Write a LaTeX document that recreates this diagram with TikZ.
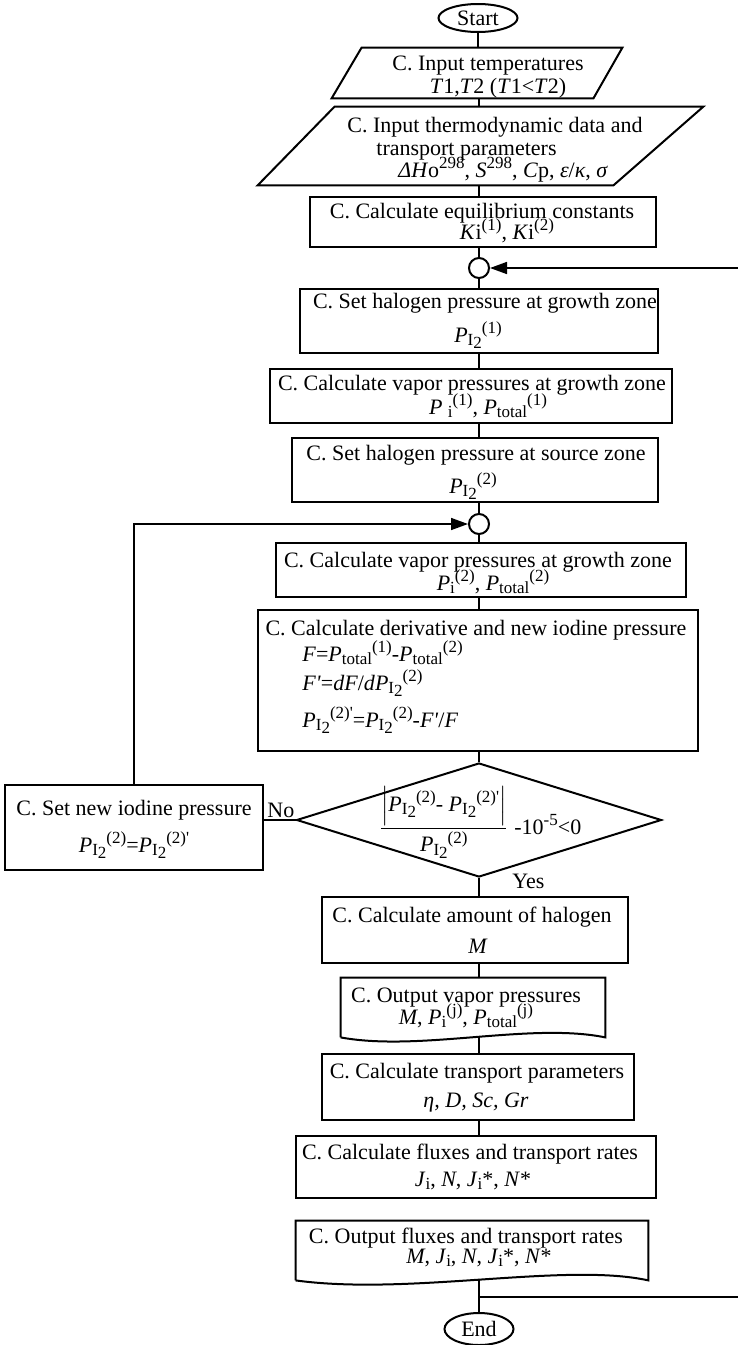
\documentclass[tikz,border=0pt]{standalone}
\usepackage{amsmath}
\usepackage{fontspec}
\setmainfont{Liberation Serif}
\usetikzlibrary{shapes.geometric,arrows.meta,fit}
\newcommand{\qs}{\textquotesingle}
\newcommand{\sbx}[1]{\raisebox{-0.35ex}{\fontsize{8.5}{9}\selectfont #1}}
\newcommand{\spx}[1]{\raisebox{0.85ex}{\fontsize{8.5}{9}\selectfont #1}}
\newcommand{\PIt}[1]{\textit{P}\raisebox{-0.3ex}{\fontsize{8.5}{9}\selectfont I\raisebox{-0.45ex}{2}}\spx{#1}}
\newcommand{\Psub}[2]{\textit{P}\sbx{#1}\spx{#2}}
\tikzset{
  rbox/.style={draw, line width=1pt, inner sep=0pt},
  fitbox/.style={draw=none, inner sep=0pt},
  outline/.style={line width=1pt, line join=miter},
  txt/.style={font=\fontsize{11}{13}\selectfont, inner sep=0pt, anchor=base},
  ltxt/.style={txt, anchor=base west},
  term/.style={draw, ellipse, line width=1pt, inner sep=0pt, font=\fontsize{11}{13}\selectfont},
  junc/.style={draw, circle, line width=1pt, minimum size=10pt, inner sep=0pt},
  conn/.style={line width=0.8pt},
  arr/.style={conn, -{Triangle[length=8.5pt,width=6pt]}}
}
\begin{document}
\begin{tikzpicture}[x=0.5pt,y=-0.5pt]
\useasboundingbox (0,0) rectangle (738,1345);
\coordinate (T) at (479,0);
% Start
\node[term, minimum width=39.5pt, minimum height=14pt] (start) at (478,18) {Start};
% Input temperatures
\node[fitbox, fit={(332,48)(622,98)}] (p1) {};
\draw[outline] ([xshift=15pt]p1.north west) -- (p1.north east) -- ([xshift=-14.5pt]p1.south east) -- (p1.south west) -- cycle;
\node[txt] (p1a) at (488,70) {C. Input temperatures};
\node[txt] (p1b) at (498,93) {\textit{T}1,\textit{T}2 (\textit{T}1<\textit{T}2)};
% Input thermodynamic data
\node[fitbox, fit={(258,107)(703,185)}] (p2) {};
\draw[outline] ([xshift=38.5pt]p2.north west) -- (p2.north east) -- ([xshift=-45pt]p2.south east) -- (p2.south west) -- cycle;
\node[ltxt] (p2a) at (347,132) {C. Input thermodynamic data and};
\node[ltxt] (p2b) at (376,155) {transport parameters};
\node[ltxt] (p2c) at (398,177) {\textit{ΔH}o\spx{298}, \textit{S}\spx{298}, \textit{C}p, \textit{ε}/\textit{κ}, \textit{σ}};
% Equilibrium constants
\node[rbox, fit={(310,197)(656,247)}] (K) {};
\node[txt] (Ka) at (482,218) {C. Calculate equilibrium constants};
\node[txt] (Kb) at (507,239) {\textit{K}i\spx{(1)}, \textit{K}i\spx{(2)}};
% junction 1
\node[junc] (c1) at (479,268) {};
% Set halogen growth
\node[rbox, fit={(300,289)(658,353)}] (G1) {};
\node[txt] (G1a) at (485,308) {C. Set halogen pressure at growth zone};
\node[txt] (G1b) at (478,342) {\PIt{(1)}};
% Vapor pressures 1
\node[rbox, fit={(270,369)(672,423)}] (V1) {};
\node[txt] (V1a) at (472,390) {C. Calculate vapor pressures at growth zone};
\node[txt] (V1b) at (488,414) {\textit{P} \sbx{i}\spx{(1)}, \Psub{total}{(1)}};
% Set halogen source
\node[rbox, fit={(292,438)(658,502)}] (S2) {};
\node[txt] (S2a) at (476,460) {C. Set halogen pressure at source zone};
\node[txt] (S2b) at (473,493) {\PIt{(2)}};
% junction 2
\node[junc] (c2) at (479,524) {};
% Vapor pressures 2
\node[rbox, fit={(276,543)(686,597)}] (V2) {};
\node[txt] (V2a) at (478,567) {C. Calculate vapor pressures at growth zone};
\node[txt] (V2b) at (493,590) {\Psub{i}{(2)}, \Psub{total}{(2)}};
% Derivative
\node[rbox, fit={(258,610)(698,751)}] (D) {};
\node[txt] (Da) at (476,635) {C. Calculate derivative and new iodine pressure};
\node[ltxt] (Db) at (302,661) {\textit{F}=\Psub{total}{(1)}-\Psub{total}{(2)}};
\node[ltxt] (Dc) at (302,690) {\textit{F\qs}=\textit{dF}/\textit{d}\PIt{(2)}};
\node[ltxt] (Dd) at (302,727) {\PIt{(2)\qs}=\PIt{(2)}-\textit{F\qs}/\textit{F}};
% Decision
\node[draw, diamond, line width=1pt, minimum width=182.5pt, minimum height=57pt, inner sep=0pt] (dia) at (479,820) {};
\node[txt] (diat) at (480,834) {$\dfrac{\left|\text{\PIt{(2)}- \PIt{(2)\qs}}\right|}{\text{\PIt{(2)}}}$ -10\spx{-5}<0};
\node[ltxt] (no) at (267,817) {No};
\node[ltxt] (yes) at (512,888) {Yes};
% Set new iodine pressure
\node[rbox, fit={(5,785)(263,870)}] (L) {};
\node[txt] (La) at (134,815) {C. Set new iodine pressure};
\node[txt] (Lb) at (134,852) {\PIt{(2)}=\PIt{(2)\qs}};
% Amount of halogen
\node[rbox, fit={(322,897)(628,963)}] (A) {};
\node[txt] (Aa) at (472,922) {C. Calculate amount of halogen};
\node[txt] (Ab) at (478,953) {\textit{M}};
% Output vapor pressures
\node[fitbox, fit={(341,978)(605,1037)}] (OV) {};
\draw[outline] (OV.south west) -- (OV.north west) -- (OV.north east) -- (OV.south east) .. controls (530,1022) and (420,1052) .. (OV.south west);
\node[txt] (OVa) at (466,1002) {C. Output vapor pressures};
\node[txt] (OVb) at (466,1024) {\textit{M}, \Psub{i}{(j)}, \Psub{total}{(j)}};
% Transport parameters
\node[rbox, fit={(322,1054)(634,1120)}] (TP) {};
\node[txt] (TPa) at (477,1078) {C. Calculate transport parameters};
\node[txt] (TPb) at (476,1107) {\textit{η, D, Sc, Gr}};
% Fluxes
\node[rbox, fit={(296,1136)(656,1198)}] (F) {};
\node[txt] (Fa) at (470,1159) {C. Calculate fluxes and transport rates};
\node[txt] (Fb) at (473,1186) {\textit{J}\sbx{i}, \textit{N}, \textit{J}\sbx{i}*, \textit{N}*};
% Output fluxes
\node[fitbox, fit={(296,1221)(648,1280)}] (OF) {};
\draw[outline] (OF.south west) -- (OF.north west) -- (OF.north east) -- (OF.south east) .. controls (565,1262) and (410,1296) .. (OF.south west);
\node[txt] (OFa) at (466,1243) {C. Output fluxes and transport rates};
\node[txt] (OFb) at (479,1263) {\textit{M}, \textit{J}\sbx{i}, \textit{N}, \textit{J}\sbx{i}*, \textit{N}*};
% End
\node[term, minimum width=34.5pt, minimum height=16pt] (end) at (479,1329) {End};
\coordinate (jn) at (479,1297);
\coordinate (rb) at (738,1297);
\coordinate (rt) at (738,268);
% connectors
\draw[conn] (start.south) -- (start.south |- p1.north);
\draw[conn] (p1.south -| T) -- (p2.north -| T);
\draw[conn] (p2.south -| T) -- (K.north -| T);
\draw[conn] (K.south -| T) -- (c1.north);
\draw[conn] (c1.south) -- (G1.north -| T);
\draw[conn] (G1.south -| T) -- (V1.north -| T);
\draw[conn] (V1.south -| T) -- (S2.north -| T);
\draw[conn] (S2.south -| T) -- (c2.north);
\draw[conn] (c2.south) -- (V2.north -| T);
\draw[conn] (V2.south -| T) -- (D.north -| T);
\draw[conn] (D.south -| T) -- (dia.north);
\draw[conn] (dia.west) -- (dia.west -| L.east);
\draw[arr] (L.north) |- (c2.west);
\draw[conn] (dia.south) -- (A.north -| T);
\draw[conn] (A.south -| T) -- (OV.north -| T);
\draw[conn] (OV.south -| T) -- (TP.north -| T);
\draw[conn] (TP.south -| T) -- (F.north -| T);
\draw[conn] (OF.south -| T) -- (end.north);
\draw[conn] (jn) -- (rb);
\draw[arr] (rt) -- (c1.east);
\end{tikzpicture}
\end{document}
